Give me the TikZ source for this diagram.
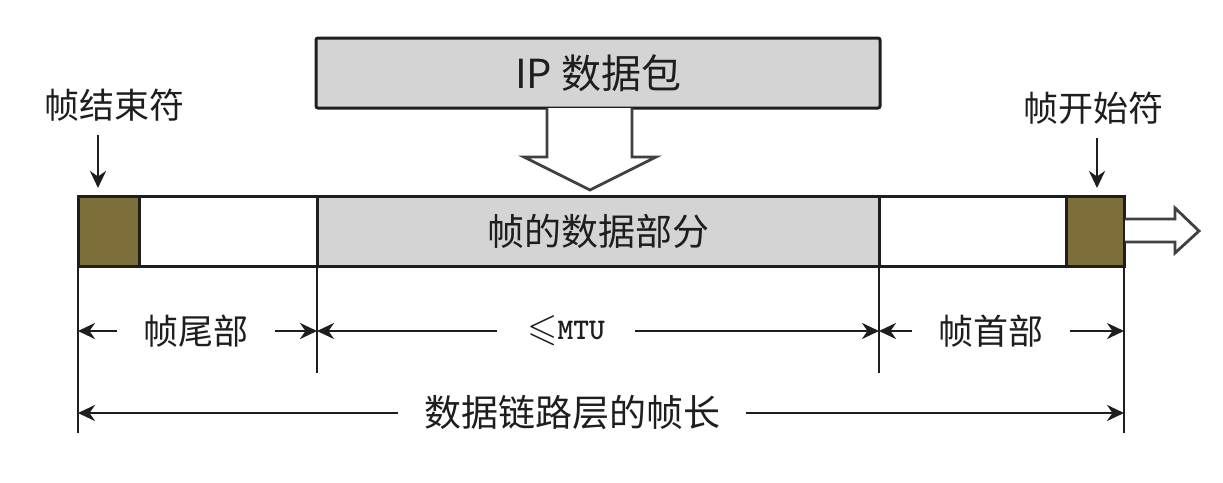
\documentclass[tikz,border=0pt]{standalone}
\usepackage{fontspec}
\usepackage{amssymb}
\usepackage{graphicx}
\setmainfont{Noto Sans CJK SC}[AutoFakeBold=0.6]
\usetikzlibrary{arrows.meta}
\definecolor{brownfill}{HTML}{7D6E3A}
\definecolor{grayfill}{HTML}{D4D4D4}
\definecolor{ink}{HTML}{1E1E1E}
\begin{document}
\begin{tikzpicture}[x=1pt,y=-1pt,
  seg/.style={draw=ink, line width=3pt, minimum height=70pt, anchor=north west, inner sep=0pt, outer sep=0pt, text=ink},
  lbl/.style={text=ink, font=\fontsize{35}{40}\selectfont, inner xsep=0pt, inner ysep=2pt},
  dimlbl/.style={text=ink, font=\fontsize{35}{40}\selectfont, inner xsep=26pt, inner ysep=0pt},
  dim/.style={draw=ink, line width=2.8pt, -{Stealth[length=17pt,width=16pt]}},
  ext/.style={draw=ink, line width=2.6pt},
  hollow/.style={draw=ink!85, line width=2.8pt, fill=white, line join=miter},
]
\fill[white] (0,0) rectangle (1223,482);
\useasboundingbox (0,0) rectangle (1223,482);

% top IP box
\node[seg, fill=grayfill, minimum width=564pt, rounded corners=2pt,
      font=\fontsize{40}{44}\selectfont] (ip) at (316,38) {IP 数据包};

% frame segments
\node[seg, fill=brownfill, minimum width=61pt] (endf) at (78,196) {};
\node[seg, fill=white, minimum width=178pt] (tail) at (139,196) {};
\node[seg, fill=grayfill, minimum width=562pt, font=\fontsize{37}{42}\selectfont] (data) at (317,196) {帧的数据部分};
\node[seg, fill=white, minimum width=187pt] (head) at (879,196) {};
\node[seg, fill=brownfill, minimum width=58pt] (startf) at (1066,196) {};

% hollow arrows
\draw[hollow] (547,108) -- (547,157) -- (524,157) -- (590,190) -- (656,157) -- (632,157) -- (632,108);
\draw[hollow] (1125,219) -- (1175,219) -- (1175,208) -- (1199,231) -- (1175,253) -- (1175,242) -- (1125,242);

% top labels with arrows
\node[lbl] (lend) at (114,105) {帧结束符};
\coordinate (tend) at (98,188);
\draw[dim] ([yshift=-12pt]lend.south -| tend) -- (tend);
\node[lbl] (lstart) at (1093,108) {帧开始符};
\coordinate (tstart) at (1097,188);
\draw[dim] ([yshift=-12pt]lstart.south -| tstart) -- (tstart);

% extension lines
\coordinate (b1) at (78,433);
\coordinate (b2) at (317,373);
\coordinate (b3) at (879,373);
\coordinate (b4) at (1124,433);
\draw[ext] (endf.south west) -- (b1);
\draw[ext] (tail.south east) -- (b2);
\draw[ext] (data.south east) -- (b3);
\draw[ext] (startf.south east) -- (b4);

% row 1 dimensions
\node[dimlbl] (ltail) at (196,331) {帧尾部};
\draw[dim] (ltail.west) -- (b1 |- ltail);
\draw[dim] (ltail.east) -- (b2 |- ltail);
\node[dimlbl, inner xsep=30pt, font=\fontsize{30}{34}\selectfont] (lmtu) at (566,331) {\raisebox{-1pt}{\scalebox{1.3}{$\leqslant$}}\texttt{\bfseries MTU}};
\draw[dim] (lmtu.west) -- (b2 |- lmtu);
\draw[dim] (lmtu.east) -- (b3 |- lmtu);
\node[dimlbl] (lhead) at (991,331) {帧首部};
\draw[dim] (lhead.west) -- (b3 |- lhead);
\draw[dim] (lhead.east) -- (b4 |- lhead);

% row 2
\node[dimlbl, font=\fontsize{37}{42}\selectfont] (lframe) at (572,413) {数据链路层的帧长};
\draw[dim] (lframe.west) -- (b1 |- lframe);
\draw[dim] (lframe.east) -- (b4 |- lframe);
\end{tikzpicture}
\end{document}
